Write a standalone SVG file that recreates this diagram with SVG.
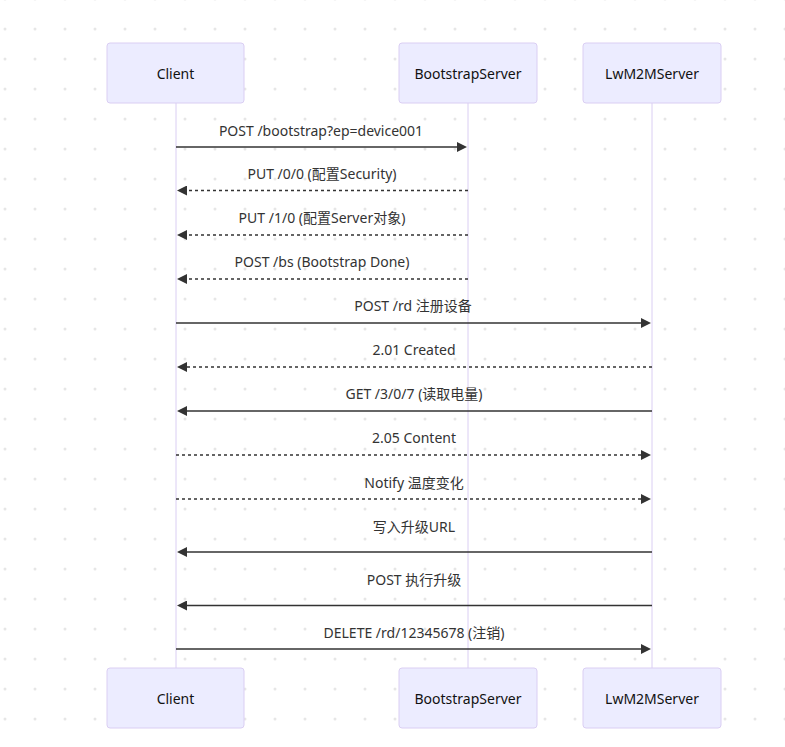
<svg xmlns="http://www.w3.org/2000/svg" width="785" height="747" viewBox="0 0 785 747">
<style>
.actor{fill:#ECECFF;stroke:#dacef3;stroke-width:1}
.atext{font-family:"Noto Sans","Noto Sans CJK SC",sans-serif;font-size:14px;fill:#111;text-anchor:middle;dominant-baseline:central}
.life{stroke:#dacef3;stroke-width:1}
.mtext{font-family:"Noto Sans","Noto Sans CJK SC",sans-serif;font-size:14px;fill:#333;text-anchor:middle;dominant-baseline:central}
.msg{stroke:#333;stroke-width:1.5;fill:none;marker-end:url(#arrow)}
.dash{stroke-dasharray:3,3}
</style>
<defs>
<pattern id="dots" patternUnits="userSpaceOnUse" x="-10" y="14" width="30" height="30">
<circle cx="15" cy="15" r="1.5" fill="#e6e6e6"/>
</pattern>
<marker id="arrow" viewBox="0 0 10 10" refX="6" refY="5" markerWidth="10" markerHeight="10" markerUnits="userSpaceOnUse" orient="auto">
<path d="M0,0 L10,5 L0,10 z" fill="#333"/>
</marker>
</defs>
<rect width="785" height="747" fill="#fff"/>
<rect width="785" height="747" fill="url(#dots)"/>
<g id="lifelines">
<line class="life" x1="176" y1="103" x2="176" y2="668"/>
<line class="life" x1="468" y1="103" x2="468" y2="668"/>
<line class="life" x1="652" y1="103" x2="652" y2="668"/>
</g>
<g id="actor-client-top"><rect class="actor" x="107" y="43" width="137" height="60" rx="3"/><text class="atext" x="175.5" y="73">Client</text></g>
<g id="actor-bootstrap-top"><rect class="actor" x="399" y="43" width="138" height="60" rx="3"/><text class="atext" x="468" y="73">BootstrapServer</text></g>
<g id="actor-lwm2m-top"><rect class="actor" x="583" y="43" width="138" height="60" rx="3"/><text class="atext" x="652" y="73">LwM2MServer</text></g>
<g id="actor-client-bottom"><rect class="actor" x="107" y="668" width="137" height="60" rx="3"/><text class="atext" x="175.5" y="698">Client</text></g>
<g id="actor-bootstrap-bottom"><rect class="actor" x="399" y="668" width="138" height="60" rx="3"/><text class="atext" x="468" y="698">BootstrapServer</text></g>
<g id="actor-lwm2m-bottom"><rect class="actor" x="583" y="668" width="138" height="60" rx="3"/><text class="atext" x="652" y="698">LwM2MServer</text></g>
<g id="connectors">
<line class="msg" x1="176" y1="147" x2="463" y2="147"/>
<line class="msg dash" x1="468" y1="190.5" x2="181" y2="190.5"/>
<line class="msg dash" x1="468" y1="235" x2="181" y2="235"/>
<line class="msg dash" x1="468" y1="279" x2="181" y2="279"/>
<line class="msg" x1="176" y1="323" x2="647" y2="323"/>
<line class="msg dash" x1="652" y1="367" x2="181" y2="367"/>
<line class="msg" x1="652" y1="411" x2="181" y2="411"/>
<line class="msg dash" x1="176" y1="455" x2="647" y2="455"/>
<line class="msg dash" x1="176" y1="499" x2="647" y2="499"/>
<line class="msg" x1="652" y1="552" x2="181" y2="552"/>
<line class="msg" x1="652" y1="605.5" x2="181" y2="605.5"/>
<line class="msg" x1="176" y1="649" x2="647" y2="649"/>
</g>
<g id="labels">
<text class="mtext" x="321" y="130">POST /bootstrap?ep=device001</text>
<text class="mtext" x="322" y="173">PUT /0/0 (配置Security)</text>
<text class="mtext" x="322" y="217">PUT /1/0 (配置Server对象)</text>
<text class="mtext" x="322" y="261">POST /bs (Bootstrap Done)</text>
<text class="mtext" x="413" y="305">POST /rd 注册设备</text>
<text class="mtext" x="414" y="349.5">2.01 Created</text>
<text class="mtext" x="414" y="393">GET /3/0/7 (读取电量)</text>
<text class="mtext" x="414" y="437">2.05 Content</text>
<text class="mtext" x="414" y="482">Notify 温度变化</text>
<text class="mtext" x="414" y="526.5">写入升级URL</text>
<text class="mtext" x="414" y="579.5">POST 执行升级</text>
<text class="mtext" x="414" y="632">DELETE /rd/12345678 (注销)</text>
</g>
</svg>
